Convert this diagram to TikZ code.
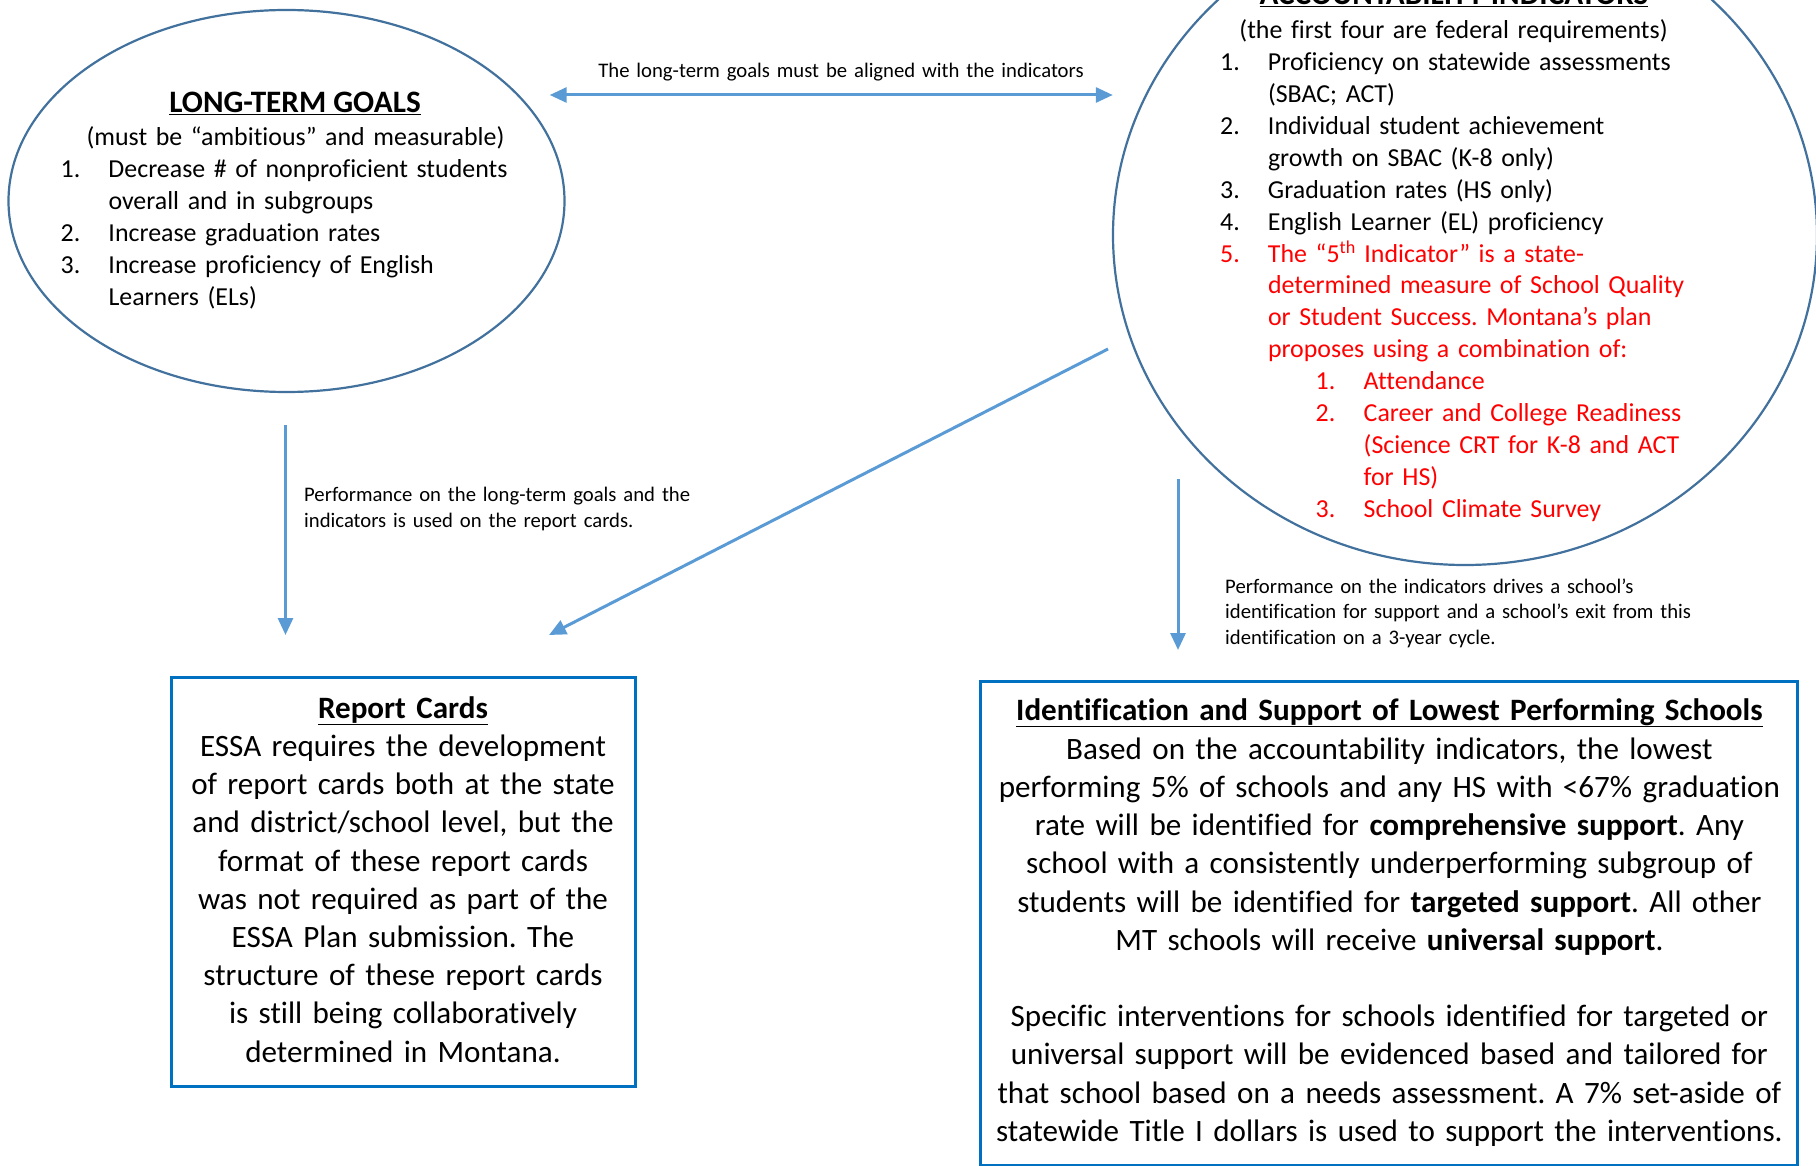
\documentclass[tikz,border=0pt]{standalone}
\usepackage{fontspec}
\setmainfont{Carlito}[Ligatures=NoCommon]
\usetikzlibrary{arrows.meta,shapes.geometric}
\frenchspacing

\definecolor{ringblue}{RGB}{65,113,156}
\definecolor{flowblue}{RGB}{91,155,213}
\definecolor{boxblue}{RGB}{0,112,192}
\definecolor{fifthred}{RGB}{255,0,0}

\newcommand{\itemno}[1]{\makebox[47.8pt][l]{#1}}
\newcommand{\subno}[1]{\hspace*{95.5pt}\makebox[48pt][l]{#1}}

\tikzset{
  ring/.style={ellipse, draw=ringblue, line width=2.2pt, inner sep=0},
  cardbox/.style={draw=boxblue, line width=3pt, inner sep=0},
  flow/.style={draw=flowblue, line width=3pt, -{Triangle[length=17pt,width=15pt]}},
  notetext/.style={font=\fontsize{20.7}{25.7}\selectfont, text width=480pt, align=left, inner sep=0, anchor=base west},
  listtext/.style={font=\fontsize{25.9}{31.9}\selectfont, text width=460pt, align=left, inner sep=0, anchor=base west},
  headtext/.style={font=\fontsize{31.2}{38.2}\selectfont\bfseries, inner sep=0, anchor=base},
  boxtext/.style={font=\fontsize{31.1}{38.2}\selectfont, align=center, inner sep=0, anchor=base}
}

\begin{document}
\begin{tikzpicture}[x=1pt, y=-1pt]
    \useasboundingbox (0,0) rectangle (1816,1166);

    % the two ellipses
    \node[ring, minimum width=556pt, minimum height=382pt] (goals) at (286.5,201) {};
    \node[ring, minimum width=704pt, minimum height=660pt] (indicators) at (1465,235) {};

    % the two boxes
    \node[cardbox, minimum width=464pt, minimum height=409pt] (cards) at (403,881.5) {};
    \node[cardbox, minimum width=817pt, minimum height=484pt] (support) at (1389.4,923.5) {};

    % long-term goals
    \node[headtext] (goalstitle) at (295,112.7) {\underline{LONG-TERM GOALS}};
    \node[listtext, anchor=base, text width=520pt, align=center] (goalssub) at (295.5,145.7)
        {(must be “ambitious” and measurable)};
    \node[listtext] (goalslist) at (60.5,177.7) {%
        \itemno{1.}Decrease \# of nonproficient students\\
        \itemno{}overall and in subgroups\\
        \itemno{2.}Increase graduation rates\\
        \itemno{3.}Increase proficiency of English\\
        \itemno{}Learners (ELs)};

    % accountability indicators
    \node[headtext] (indtitle) at (1454,5) {\underline{ACCOUNTABILITY INDICATORS}};
    \node[listtext, anchor=base, text width=600pt, align=center] (indsub) at (1453.5,38.5)
        {(the first four are federal requirements)};
    \node[listtext, text width=520pt] (indlist) at (1220,70.7) {%
        \itemno{1.}Proficiency on statewide assessments\\
        \itemno{}(SBAC; ACT)\\
        \itemno{2.}Individual student achievement\\
        \itemno{}growth on SBAC (K-8 only)\\
        \itemno{3.}Graduation rates (HS only)\\
        \itemno{4.}English Learner (EL) proficiency\\
        \color{fifthred}\itemno{5.}The “5\textsuperscript{th} Indicator” is a state-\\
        \itemno{}determined measure of School Quality\\
        \itemno{}or Student Success. Montana’s plan\\
        \itemno{}proposes using a combination of:\\
        \subno{1.}Attendance\\
        \subno{2.}Career and College Readiness\\
        \subno{}(Science CRT for K-8 and ACT\\
        \subno{}for HS)\\
        \subno{3.}School Climate Survey};

    % connectors
    \coordinate (alignL) at (549.7,95);
    \coordinate (alignR) at (1112.8,95);
    \coordinate (goalsOut) at (285.5,425);
    \coordinate (cardsInA) at (285.5,635);
    \coordinate (indOut) at (1108,349);
    \coordinate (cardsInB) at (549,635);
    \coordinate (indDown) at (1178,479);
    \coordinate (supportIn) at (1178,650);
    \draw[flow, {Triangle[length=17pt,width=15pt]}-{Triangle[length=17pt,width=15pt]}] (alignL) -- (alignR);
    \draw[flow] (goalsOut) -- (cardsInA);
    \draw[flow] (indOut) -- (cardsInB);
    \draw[flow] (indDown) -- (supportIn);

    \node[notetext, anchor=base, align=center, text width=600pt] (alignnote) at (841,77.7)
        {The long-term goals must be aligned with the indicators};
    \node[notetext] (cardsnote) at (304,501.7)
        {Performance on the long-term goals and the\\indicators is used on the report cards.};
    \node[notetext, text width=560pt] (supportnote) at (1225,593)
        {Performance on the indicators drives a school’s\\
         identification for support and a school’s exit from this\\
         identification on a 3-year cycle.};

    % box texts
    \node[boxtext, text width=450pt] (cardstext) at (403,718.3) {%
        \underline{\textbf{Report Cards}}\\
        ESSA requires the development\\
        of report cards both at the state\\
        and district/school level, but the\\
        format of these report cards\\
        was not required as part of the\\
        ESSA Plan submission. The\\
        structure of these report cards\\
        is still being collaboratively\\
        determined in Montana.};
    \node[boxtext, text width=810pt] (supporttext) at (1389.4,720) {%
        \underline{\textbf{Identification and Support of Lowest Performing Schools}}\\[1pt]
        Based on the accountability indicators, the lowest\\
        performing 5\% of schools and any HS with <67\% graduation\\
        rate will be identified for \textbf{comprehensive support}. Any\\
        school with a consistently underperforming subgroup of\\
        students will be identified for \textbf{targeted support}. All other\\
        MT schools will receive \textbf{universal support}.\\[38.2pt]
        Specific interventions for schools identified for targeted or\\
        universal support will be evidenced based and tailored for\\
        that school based on a needs assessment. A 7\% set-aside of\\
        statewide Title I dollars is used to support the interventions.};
\end{tikzpicture}
\end{document}
